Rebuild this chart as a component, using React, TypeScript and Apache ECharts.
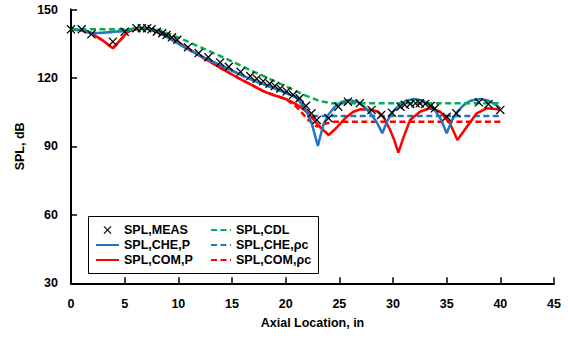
import React, { useEffect, useRef } from "react";
import * as echarts from "echarts";

// ---- data ----
const measX = [0, 1.0, 1.9, 3.9, 5.0, 6.1, 6.6, 7.1, 7.5, 8.0, 8.5, 8.9, 9.4, 9.9, 10.9, 11.9, 12.8, 13.9, 14.7, 15.8, 16.7, 17.3, 17.9, 18.5, 19.0, 19.5, 20.1, 20.7, 21.3, 21.9, 22.4, 22.9, 24.0, 24.9, 25.8, 26.9, 28.0, 28.9, 29.9, 30.7, 31.1, 31.6, 32.1, 32.5, 33.0, 33.5, 33.9, 35.0, 35.9, 38.0, 38.9, 40.0];
const measY = [141.3, 141.3, 139.1, 135.9, 140.3, 141.8, 141.8, 141.8, 141.3, 140.3, 139.6, 138.8, 137.8, 136.7, 133.5, 130.9, 129.1, 126.8, 124.9, 122.7, 120.8, 119.7, 118.6, 117.5, 116.5, 115.4, 114.1, 112.6, 111.1, 107.8, 104.5, 101.6, 102.3, 107.4, 109.6, 108.9, 106.0, 103.8, 104.8, 107.4, 108.2, 108.6, 108.9, 108.9, 108.6, 107.7, 106.7, 103.0, 104.5, 109.3, 108.5, 106.0];

const cdlX = [0, 7.5, 8.3, 11.0, 14.0, 17.0, 20.4, 22.0, 23.2, 24.3, 40.0];
const cdlY = [141.3, 141.3, 141.0, 135.7, 129.4, 122.8, 115.5, 112.0, 109.8, 108.9, 108.9];

const cheX = [0, 1, 2, 3, 4, 5, 6, 7, 8, 9, 10, 11, 12, 13, 14, 15, 16, 17, 18, 19, 20, 21, 21.8, 22.4, 23.0, 23.5, 24.0, 24.6, 25.2, 25.9, 26.7, 27.3, 27.9, 28.5, 29.0, 29.5, 30.0, 30.6, 31.2, 32.0, 32.8, 33.4, 34.0, 34.5, 35.0, 35.5, 36.0, 36.6, 37.2, 38.1, 38.9, 39.5, 40.0];
const cheY = [141.3, 141.0, 139.6, 139.8, 140.2, 140.7, 141.8, 141.8, 140.3, 137.8, 135.0, 132.3, 129.9, 127.6, 125.4, 123.2, 121.0, 118.9, 117.1, 115.3, 113.5, 111.5, 107.0, 100.5, 90.2, 99.5, 104.0, 107.5, 109.5, 110.3, 109.5, 107.5, 104.5, 100.5, 95.8, 101.5, 105.2, 108.2, 110.0, 110.8, 110.0, 108.2, 105.2, 101.5, 95.8, 101.5, 105.2, 108.2, 110.0, 110.8, 110.0, 108.5, 106.7];

const chePcX = [0, 1, 2, 3, 4, 5, 6, 7, 8, 9, 10, 11, 12, 13, 14, 15, 16, 17, 18, 19, 20, 21, 21.8, 22.6, 40.0];
const chePcY = [141.3, 141.0, 139.6, 139.8, 140.2, 140.7, 141.8, 141.8, 140.3, 137.8, 135.0, 132.3, 129.9, 127.6, 125.4, 123.2, 121.0, 118.9, 117.1, 115.3, 113.5, 111.5, 106.5, 103.3, 103.3];

const comX = [0, 1, 2, 3, 3.9, 5.3, 6.4, 7.2, 8, 9, 10, 11, 12, 13, 14, 15, 16, 17, 18, 19, 20, 20.7, 21.5, 22.3, 23.2, 24.0, 24.6, 25.1, 25.7, 26.3, 27.0, 28.0, 28.6, 29.1, 29.7, 30.1, 30.5, 31.0, 31.6, 32.5, 33.4, 34.4, 35.3, 36.0, 36.9, 37.8, 38.7, 39.7, 40.0];
const comY = [141.3, 140.8, 139.3, 136.3, 133.0, 140.3, 141.8, 141.8, 140.5, 138.3, 135.5, 132.7, 129.7, 127.0, 124.2, 121.5, 118.9, 116.5, 114.0, 112.3, 110.8, 109.2, 107.0, 103.5, 98.5, 95.0, 97.5, 100.1, 103.0, 105.2, 106.3, 106.0, 105.2, 103.0, 97.5, 93.0, 87.3, 94.3, 101.6, 105.2, 106.7, 105.2, 100.1, 92.8, 98.7, 104.5, 106.7, 106.3, 106.0];

const comPcX = [0, 1, 2, 3, 3.9, 5.3, 6.4, 7.2, 8, 9, 10, 11, 12, 13, 14, 15, 16, 17, 18, 19, 20, 21.0, 22.1, 22.9, 23.8, 24.5, 40.0];
const comPcY = [141.3, 140.8, 139.3, 136.3, 133.0, 140.3, 141.8, 141.8, 140.5, 138.3, 135.5, 132.7, 129.7, 127.0, 124.2, 121.5, 118.9, 116.5, 114.0, 112.3, 110.8, 107.4, 101.6, 98.7, 100.1, 100.8, 100.8];

const xTicks = { min: 0, max: 45, interval: 5 };
const yTicks = { min: 30, max: 150, interval: 30 };

const names = {
  meas: "SPL,MEAS",
  cdl: "SPL,CDL",
  cheP: "SPL,CHE,P",
  chePc: "SPL,CHE,\u03c1c",
  comP: "SPL,COM,P",
  comPc: "SPL,COM,\u03c1c",
};

const pairs = (xs: number[], ys: number[]) => xs.map((x, i) => [x, ys[i]]);

const FONT = "'Liberation Sans', Arial, sans-serif";
const BLUE = "#2277C2";
const RED = "#FF0000";
const GREEN = "#00B050";
const DASH = [6, 3.5];
const X_SYMBOL = "path://M1,0L10,9L9,10L0,1ZM9,0L10,1L1,10L0,9Z";

export default function App() {
  const ref = useRef<HTMLDivElement>(null);
  useEffect(() => {
    document.body.style.margin = "0";
    if (!ref.current) return;
    const chart = echarts.init(ref.current, null, { renderer: "svg" });
    const txt = { fontFamily: FONT, fontWeight: "bold" as const, fontSize: 12.5, color: "#000" };
    const lineSeries = (name: string, data: number[][], color: string, dashed: boolean, z: number) => ({
      name,
      type: "line",
      data,
      symbol: "none",
      z,
      lineStyle: { color, width: 2.5, type: dashed ? DASH : "solid" },
      itemStyle: { color },
    });
    const noSym = (name: string) => ({ name, itemStyle: { opacity: 0 } });
    chart.setOption({
      animation: false,
      grid: { left: 71, right: 14, top: 9.5, bottom: 59.7, containLabel: false },
      xAxis: {
        type: "value",
        ...xTicks,
        name: "Axial Location, in",
        nameLocation: "middle",
        nameGap: 33,
        nameTextStyle: txt,
        axisLine: { show: true, lineStyle: { color: "#000", width: 2 } },
        axisTick: { show: true, inside: true, length: 6, lineStyle: { color: "#000", width: 1.5 } },
        axisLabel: { ...txt, margin: 14 },
        splitLine: { show: false },
      },
      yAxis: {
        type: "value",
        ...yTicks,
        name: "SPL, dB",
        nameLocation: "middle",
        nameRotate: 90,
        nameGap: 44,
        nameTextStyle: txt,
        axisLine: { show: true, lineStyle: { color: "#000", width: 2 } },
        axisTick: { show: true, inside: true, length: 6, lineStyle: { color: "#000", width: 1.5 } },
        axisLabel: { ...txt, margin: 13 },
        splitLine: { show: false },
      },
      graphic: [
        {
          type: "rect",
          shape: { x: 88.5, y: 216.5, width: 230, height: 57 },
          style: { fill: "#fff", stroke: "#000", lineWidth: 1 },
          z: 0,
        },
      ],
      legend: [
        {
          orient: "vertical",
          left: 95,
          top: 222.5,
          padding: 0,
          itemWidth: 23,
          itemHeight: 10,
          itemGap: 0,
          textStyle: { ...txt, lineHeight: 15 },
          data: [{ name: names.meas }, noSym(names.cheP), noSym(names.comP)],
        },
        {
          orient: "vertical",
          left: 210,
          top: 222.5,
          padding: 0,
          itemWidth: 20,
          itemHeight: 10,
          itemGap: 0,
          textStyle: { ...txt, lineHeight: 15 },
          data: [noSym(names.cdl), noSym(names.chePc), noSym(names.comPc)],
        },
      ],
      series: [
        lineSeries(names.comPc, pairs(comPcX, comPcY), RED, true, 2),
        lineSeries(names.chePc, pairs(chePcX, chePcY), BLUE, true, 2),
        lineSeries(names.comP, pairs(comX, comY), RED, false, 3),
        lineSeries(names.cheP, pairs(cheX, cheY), BLUE, false, 3),
        lineSeries(names.cdl, pairs(cdlX, cdlY), GREEN, true, 4),
        {
          name: names.meas,
          type: "line",
          data: pairs(measX, measY),
          symbol: X_SYMBOL,
          symbolSize: 9,
          showSymbol: true,
          showAllSymbol: true,
          z: 5,
          lineStyle: { width: 0, opacity: 0, color: "#000" },
          itemStyle: { color: "#000" },
        },
      ],
    });
    return () => chart.dispose();
  }, []);
  return <div ref={ref} style={{ width: 568, height: 343 }} />;
}
